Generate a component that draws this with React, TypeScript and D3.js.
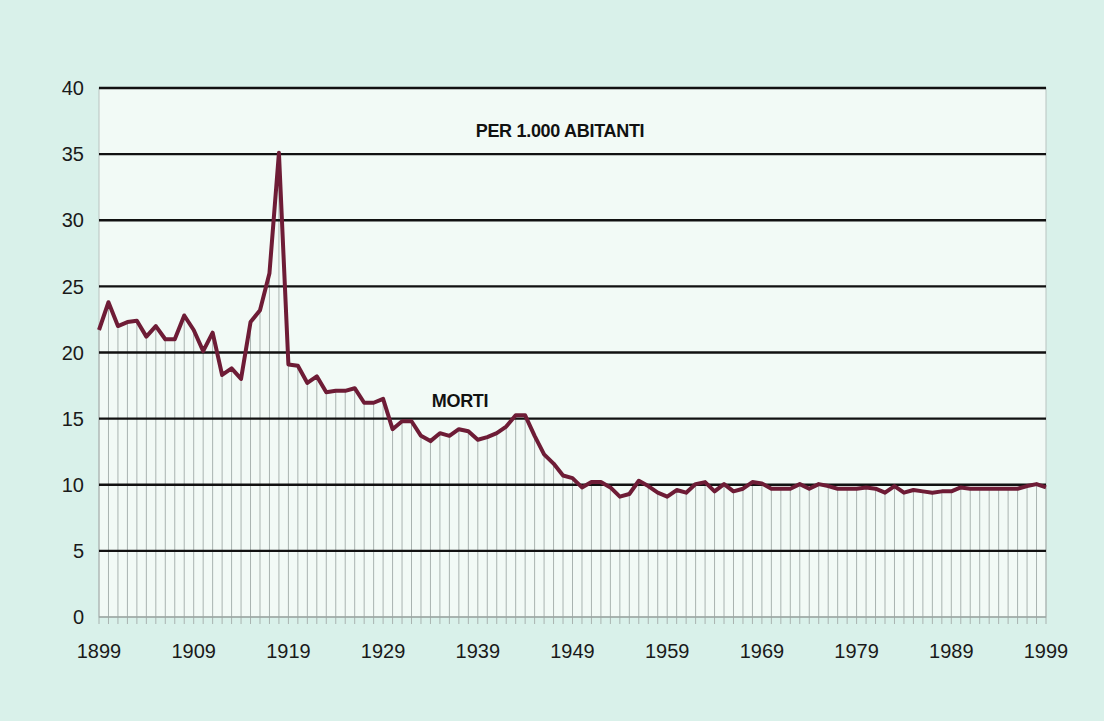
import React, { useEffect, useRef } from "react";
import * as d3 from "d3";

const years: number[] = d3.range(1899, 2000);

// death rate per 1,000 inhabitants, 1899-1999
const morti: number[] = [
  21.7, 23.8, 22.0, 22.3, 22.4, 21.2, 22.0, 21.0, 21.0, 22.8,
  21.7, 20.1, 21.5, 18.3, 18.8, 18.0, 22.3, 23.2, 26.0, 35.1,
  19.1, 19.0, 17.7, 18.2, 17.0, 17.1, 17.1, 17.3, 16.2, 16.2,
  16.5, 14.2, 14.8, 14.8, 13.7, 13.3, 13.9, 13.7, 14.2, 14.05,
  13.4, 13.6, 13.9, 14.4, 15.25, 15.25, 13.7, 12.3, 11.6, 10.7,
  10.5, 9.8, 10.2, 10.2, 9.8, 9.1, 9.3, 10.3, 9.9, 9.4,
  9.1, 9.6, 9.4, 10.05, 10.2, 9.5, 10.05, 9.5, 9.7, 10.2,
  10.1, 9.7, 9.7, 9.7, 10.05, 9.7, 10.05, 9.9, 9.7, 9.7,
  9.7, 9.8, 9.7, 9.4, 9.9, 9.4, 9.6, 9.5, 9.4, 9.5,
  9.5, 9.8, 9.7, 9.7, 9.7, 9.7, 9.7, 9.7, 9.9, 10.05,
  9.8,
];

const yTicks: number[] = [0, 5, 10, 15, 20, 25, 30, 35, 40];
const xTickYears: number[] = [1899, 1909, 1919, 1929, 1939, 1949, 1959, 1969, 1979, 1989, 1999];

const App: React.FC = () => {
  const svgRef = useRef<SVGSVGElement | null>(null);

  useEffect(() => {
    const svg = d3.select(svgRef.current);
    svg.selectAll("*").remove();

    const width = 1104;
    const height = 721;
    const margin = { top: 88, right: 58, bottom: 104, left: 99 };
    const font = "'Liberation Sans', Arial, sans-serif";

    const x = d3
      .scaleLinear()
      .domain([1899, 1999])
      .range([margin.left, width - margin.right]);

    const y = d3
      .scaleLinear()
      .domain([0, 40])
      .range([height - margin.bottom, margin.top]);

    // background
    svg.append("rect").attr("width", width).attr("height", height).attr("fill", "#d9f1ea");

    // plot area
    svg
      .append("rect")
      .attr("x", margin.left)
      .attr("y", margin.top)
      .attr("width", width - margin.left - margin.right)
      .attr("height", height - margin.top - margin.bottom)
      .attr("fill", "#f2faf6")
      .attr("stroke", "#b9c4c0")
      .attr("stroke-width", 1);

    const data = years.map((yr, i) => ({ yr, v: morti[i] }));

    // drop lines from each point to the axis, extending as ticks
    svg
      .append("g")
      .selectAll("line")
      .data(data)
      .join("line")
      .attr("x1", (d) => x(d.yr))
      .attr("x2", (d) => x(d.yr))
      .attr("y1", y(0) + 7)
      .attr("y2", (d) => y(d.v))
      .attr("stroke", "#a9b3b0")
      .attr("stroke-width", 1);

    // horizontal gridlines
    svg
      .append("g")
      .selectAll("line")
      .data(yTicks)
      .join("line")
      .attr("x1", margin.left)
      .attr("x2", width - margin.right)
      .attr("y1", (d) => y(d))
      .attr("y2", (d) => y(d))
      .attr("stroke", (d) => (d === 0 ? "#9aa6a2" : "#111"))
      .attr("stroke-width", (d) => (d === 0 ? 1.5 : 2.4));

    // y labels
    svg
      .append("g")
      .selectAll("text")
      .data(yTicks)
      .join("text")
      .attr("x", margin.left - 15)
      .attr("y", (d) => y(d))
      .attr("dy", "0.36em")
      .attr("text-anchor", "end")
      .attr("font-family", font)
      .attr("font-size", 20)
      .attr("fill", "#1a1a1a")
      .text((d) => d);

    // x labels
    svg
      .append("g")
      .selectAll("text")
      .data(xTickYears)
      .join("text")
      .attr("x", (d) => x(d))
      .attr("y", y(0) + 41)
      .attr("text-anchor", "middle")
      .attr("font-family", font)
      .attr("font-size", 20)
      .attr("fill", "#1a1a1a")
      .text((d) => d);

    // the series line
    const line = d3
      .line<{ yr: number; v: number }>()
      .x((d) => x(d.yr))
      .y((d) => y(d.v));

    svg
      .append("path")
      .datum(data)
      .attr("d", line)
      .attr("fill", "none")
      .attr("stroke", "#6e1c36")
      .attr("stroke-width", 4)
      .attr("stroke-linejoin", "round");

    // labels
    svg
      .append("text")
      .attr("x", 560)
      .attr("y", 137)
      .attr("text-anchor", "middle")
      .attr("font-family", font)
      .attr("font-size", 18)
      .attr("font-weight", "bold")
      .attr("letter-spacing", -0.3)
      .attr("fill", "#111")
      .text("PER 1.000 ABITANTI");

    svg
      .append("text")
      .attr("x", 460)
      .attr("y", 407)
      .attr("text-anchor", "middle")
      .attr("font-family", font)
      .attr("font-size", 18)
      .attr("font-weight", "bold")
      .attr("letter-spacing", -0.3)
      .attr("fill", "#111")
      .text("MORTI");

    svg.attr("width", width).attr("height", height);
  }, []);

  return (
    <div style={{ position: "absolute", left: 0, top: 0 }}>
      <svg ref={svgRef} style={{ display: "block" }}></svg>
    </div>
  );
};

export default App;
